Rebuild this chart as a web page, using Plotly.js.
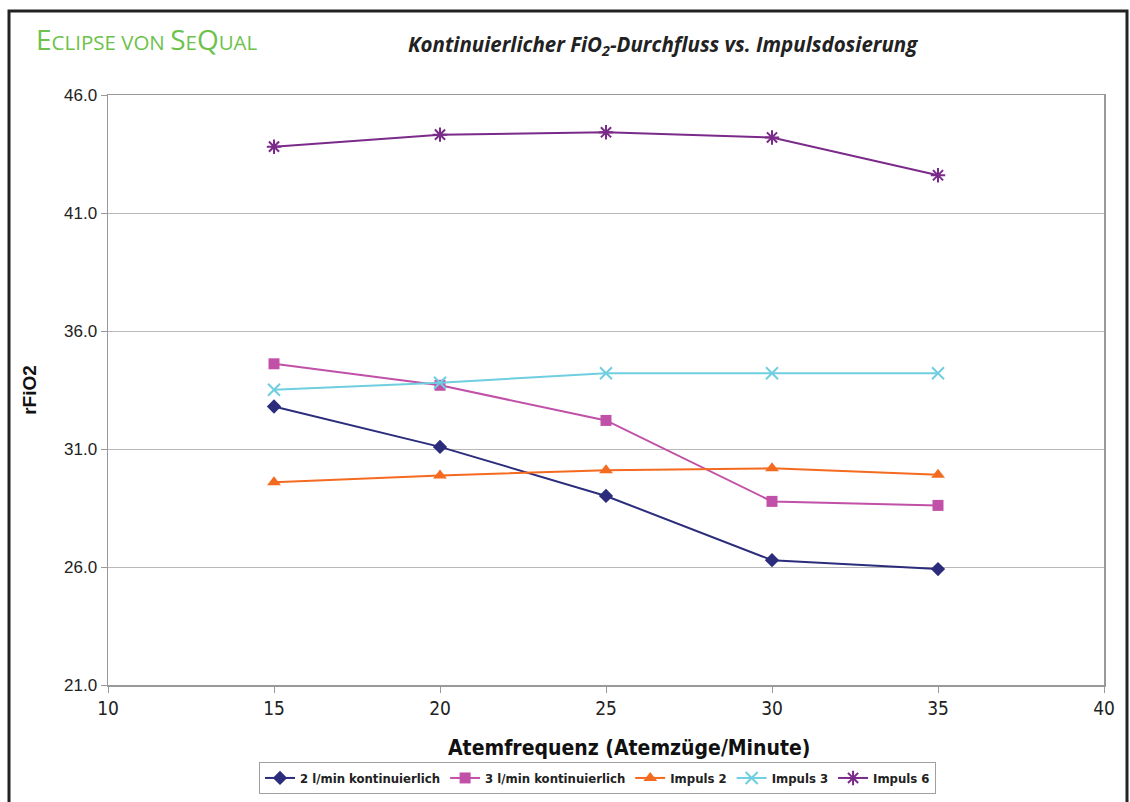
<!DOCTYPE html>
<html>
<head>
<meta charset="utf-8">
<script src="https://cdn.plot.ly/plotly-3.0.1.min.js"></script>
<style>html,body{margin:0;padding:0;background:#fff;}#chart{width:1130px;height:802px;}</style>
</head>
<body>
<div id="chart"></div>
<script>
const breathRate = [15, 20, 25, 30, 35];
const seriesNames = ["2 l/min kontinuierlich", "3 l/min kontinuierlich", "Impuls 2", "Impuls 3", "Impuls 6"];
const cont2 = [32.80, 31.09, 29.01, 26.29, 25.91];
const cont3 = [34.61, 33.70, 32.21, 28.78, 28.61];
const pulse2 = [29.59, 29.88, 30.10, 30.18, 29.91];
const pulse3 = [33.51, 33.81, 34.21, 34.21, 34.21];
const pulse6 = [43.81, 44.32, 44.42, 44.20, 42.60];
const yTicks = [21, 26, 31, 36, 41, 46];
const xTicks = [10, 15, 20, 25, 30, 35, 40];

const colors = ["#2b2d7c", "#c050a8", "#f46a1f", "#6fcfe0", "#7a2a88"];
const symbols = ["diamond", "square", "triangle-up", "x-thin-open", "asterisk-open"];
const sizes = [11, 11, 12, 12, 12];
const values = [cont2, cont3, pulse2, pulse3, pulse6];

const traces = values.map((v, i) => ({
  type: "scatter",
  mode: "lines+markers",
  name: seriesNames[i],
  x: breathRate,
  y: v,
  line: {color: colors[i], width: 2},
  marker: {symbol: symbols[i], size: sizes[i], color: colors[i], line: {color: colors[i], width: (i >= 3 ? 2 : 0)}}
}));

const narrow = "DejaVu Sans Condensed, Liberation Sans Narrow, Liberation Sans, sans-serif";

const layout = {
  width: 1130, height: 802,
  margin: {l: 108, r: 26, t: 95, b: 117},
  paper_bgcolor: "#ffffff",
  plot_bgcolor: "#ffffff",
  showlegend: true,
  legend: {
    orientation: "h",
    xref: "container", yref: "container",
    x: 259 / 1130, y: (802 - 762) / 802, xanchor: "left", yanchor: "top",
    bordercolor: "#a0a0a0", borderwidth: 1,
    font: {family: narrow, size: 13, color: "#222", weight: "bold"},
    itemwidth: 30, tracegroupgap: 0
  },
  xaxis: {
    range: [10, 40],
    tickvals: xTicks,
    ticktext: xTicks.map(String),
    ticks: "outside", ticklen: 6, tickcolor: "#999",
    showline: true, linecolor: "#999", linewidth: 1.5, mirror: true,
    showgrid: false, zeroline: false,
    tickfont: {family: narrow, size: 19, color: "#222"}
  },
  yaxis: {
    range: [21, 46],
    tickvals: yTicks,
    ticktext: yTicks.map(v => v.toFixed(1)),
    ticks: "outside", ticklen: 6, tickcolor: "#999",
    showline: true, linecolor: "#999", linewidth: 1.5, mirror: true,
    showgrid: true, gridcolor: "#b8b8b8", gridwidth: 1,
    zeroline: false,
    tickfont: {family: "Liberation Sans, Arial, sans-serif", size: 17, color: "#222"},
    title: {text: "rFiO2", font: {family: "Liberation Sans, Arial, sans-serif", size: 19, color: "#111", weight: "bold"}, standoff: 22}
  },
  annotations: [
    {
      xref: "paper", yref: "paper",
      x: (663 - 108) / 996, y: (685 - 45) / 590,
      xanchor: "center", yanchor: "middle", showarrow: false,
      text: "<b><i>Kontinuierlicher FiO<sub>2</sub>-Durchfluss vs. Impulsdosierung</i></b>",
      font: {family: "Open Sans, Noto Sans, sans-serif", size: 20.5, color: "#222"}
    },
    {
      xref: "paper", yref: "paper",
      x: (34 - 108) / 996, y: (685 - 39) / 590,
      xanchor: "left", yanchor: "middle", showarrow: false,
      text: "E<span style='font-size:20.5px'>CLIPSE VON </span>S<span style='font-size:20.5px'>E</span>Q<span style='font-size:20.5px'>UAL</span>",
      font: {family: "Open Sans, Noto Sans, sans-serif", size: 28, color: "#6cc24a"}
    },
    {
      xref: "paper", yref: "paper",
      x: (629 - 108) / 996, y: (685 - 748) / 590,
      xanchor: "center", yanchor: "middle", showarrow: false,
      text: "<b>Atemfrequenz (Atemzüge/Minute)</b>",
      font: {family: narrow, size: 21, color: "#111"}
    }
  ],
  shapes: [
    {
      type: "rect", xref: "paper", yref: "paper",
      x0: (9 - 108) / 996, x1: (1127 - 108) / 996,
      y0: (685 - 900) / 590, y1: (685 - 11) / 590,
      line: {color: "#222", width: 3}, fillcolor: "rgba(0,0,0,0)", layer: "below"
    }
  ]
};

Plotly.newPlot("chart", traces, layout, {displayModeBar: false, staticPlot: true});
</script>
</body>
</html>
